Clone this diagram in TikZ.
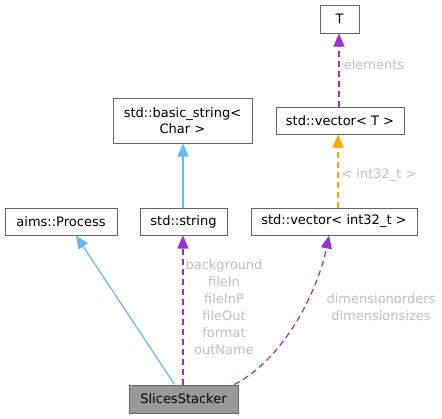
\documentclass[tikz,border=0pt]{standalone}
\usepackage{fontspec}
\setmainfont{DejaVu Sans}
\usetikzlibrary{arrows.meta,calc}
\definecolor{edgeblue}{HTML}{63B8FF}
\definecolor{edgepurple}{HTML}{9A32CD}
\definecolor{edgeorange}{HTML}{FFA500}
\definecolor{lblgray}{HTML}{BEBEBE}
\definecolor{boxborder}{HTML}{666666}
\definecolor{mainfill}{HTML}{999999}
\tikzset{
  cls/.style={draw=boxborder, line width=1pt, fill=white, inner sep=0pt, align=center, font=\fontsize{13}{16}\selectfont},
  mainbox/.style={cls, fill=mainfill},
  tip/.style={-{Triangle[width=11pt,length=13pt]}},
  inherit/.style={tip, color=edgeblue, line width=1.2pt},
  usage/.style={tip, color=edgepurple, line width=1.2pt, dash pattern=on 6pt off 4pt},
  templ/.style={tip, color=edgeorange, line width=1.2pt, dash pattern=on 6pt off 4pt},
  lbl/.style={text=lblgray, align=center, inner sep=0pt, font=\fontsize{13}{17}\selectfont},
}
\begin{document}
\begin{tikzpicture}[x=1pt,y=-1pt]
\useasboundingbox (0,0) rectangle (442,418);
\node[cls, minimum width=39pt, minimum height=28pt] (T) at (339.5,19) {T};
\node[cls, minimum width=128pt, minimum height=27pt] (vecT) at (340,120.5) {std::vector< T >};
\node[cls, minimum width=139pt, minimum height=45pt] (bstr) at (182.5,120.5) {std::basic\_string<\\Char >};
\node[cls, minimum width=112pt, minimum height=27pt] (aims) at (61,221.5) {aims::Process};
\node[cls, minimum width=87pt, minimum height=27pt] (str) at (183.5,221.5) {std::string};
\node[cls, minimum width=166pt, minimum height=27pt] (vint) at (334,221.5) {std::vector< int32\_t >};
\node[mainbox, minimum width=109pt, minimum height=28pt] (slices) at (183.5,399) {SlicesStacker};

\coordinate (sA) at ($(slices.north)+(-9,0)$);
\coordinate (aA) at ($(aims.south)+(15,0)$);
\coordinate (sB) at ($(slices.north)+(-0.5,0)$);
\coordinate (sC) at ($(slices.north)+(51,0)$);
\coordinate (vC) at ($(vint.south)+(-5,0)$);
\coordinate (vN) at ($(vint.north)+(4,0)$);
\coordinate (tN) at ($(vecT.north)+(-1,0)$);
\coordinate (bN) at ($(str.north)+(-0.5,0)$);

\draw[inherit] (sA) -- (aA);
\draw[usage] (sB) -- (sB |- str.south);
\draw[usage] (sC) .. controls (285,358) and (318,290) .. (vC);
\draw[inherit] (bN) -- (bN |- bstr.south);
\draw[templ] (vN) -- (vN |- vecT.south);
\draw[usage] (tN) -- (tN |- T.south);

\node[lbl, anchor=north] (l1) at (224,259) {background\\fileIn\\fileInP\\fileOut\\format\\outName};
\node[lbl, anchor=north] (l2) at (381,293) {dimensionorders\\dimensionsizes};
\node[lbl] (l3) at (379,175) {< int32\_t >};
\node[lbl] (l4) at (374,65) {elements};
\end{tikzpicture}
\end{document}
